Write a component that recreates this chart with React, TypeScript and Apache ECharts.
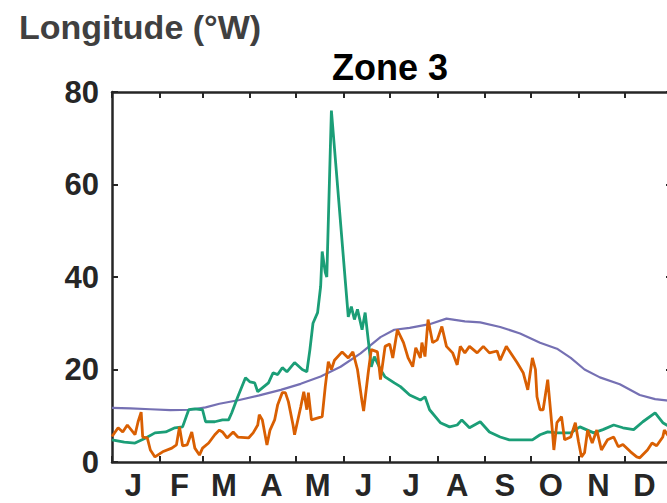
import React, { useEffect, useRef } from "react";
import * as echarts from "echarts";

const monthStarts = [0, 31, 59, 90, 120, 151, 181, 212, 243, 273, 304, 334, 365];
const monthLabelDays = [14, 44, 73, 104, 134, 164, 195, 225, 256, 286, 317, 347];
const monthLetters = ["J", "F", "M", "A", "M", "J", "J", "A", "S", "O", "N", "D"];
const yTicks = [0, 20, 40, 60, 80];

const purpleDays = [0, 12, 25, 38, 51, 61, 70, 83, 96, 110, 123, 136, 149, 162, 175, 184, 194, 207, 218, 230, 240, 253, 266, 279, 290, 299, 308, 318, 331, 344, 354, 364];
const purpleVals = [11.7, 11.6, 11.4, 11.2, 11.3, 11.8, 12.6, 13.4, 14.4, 15.6, 16.9, 18.5, 20.6, 23.5, 27, 28.6, 29, 29.8, 31, 30.4, 30.2, 29.2, 27.8, 25.8, 24.5, 22.5, 20, 18.3, 16.8, 14.5, 13.6, 13.2];

const greenDays = [0, 8, 15, 22, 28, 35, 41, 46, 50, 54, 59, 61, 67, 72, 76, 78, 82, 87, 90, 93, 95, 102, 105, 108, 111, 114, 119, 124, 127, 129, 131, 134, 136, 137, 139, 140, 143, 152, 154, 156, 158, 160, 163, 165, 167, 169, 171, 175, 178, 184, 188, 194, 201, 204, 207, 214, 220, 225, 228, 233, 240, 246, 253, 259, 268, 274, 279, 284, 290, 299, 305, 314, 320, 327, 333, 340, 346, 354, 359, 364];
const greenVals = [4.8, 4.3, 4.1, 5.2, 6.3, 6.5, 7.4, 7.6, 11.3, 11.5, 11.3, 8.7, 8.7, 9.1, 9.1, 10.6, 14.1, 18.2, 17.3, 17.1, 15.2, 17.1, 19.3, 18.9, 20.4, 19.5, 21.5, 20, 19.5, 24.3, 30, 32.3, 38, 45.5, 41, 40, 76, 39.4, 31.4, 33.6, 30.8, 33, 28.6, 32.3, 26.4, 20.6, 22.8, 20, 18.4, 17.1, 16.3, 14.5, 13.4, 14.1, 11.3, 8.5, 7.6, 8, 9.1, 7.4, 8.7, 6.5, 5.4, 4.8, 4.8, 4.8, 5.9, 6.5, 6.3, 6.3, 7.6, 6.3, 7, 8, 7.4, 7, 8.7, 10.6, 8.5, 7.5];

const orangeDays = [0, 4, 7, 10, 15, 17, 19, 20, 23, 25, 28, 33, 39, 42, 44, 46, 49, 52, 54, 57, 59, 63, 67, 70, 72, 75, 79, 82, 89, 92, 95, 96, 98, 101, 103, 106, 108, 111, 113, 115, 118, 119, 123, 125, 127, 128, 130, 137, 139, 141, 143, 145, 150, 154, 157, 160, 163, 164, 167, 169, 173, 175, 178, 181, 183, 186, 190, 193, 196, 198, 201, 202, 204, 206, 209, 212, 215, 218, 222, 225, 227, 230, 233, 238, 242, 246, 251, 253, 257, 259, 264, 268, 271, 274, 276, 277, 279, 281, 284, 287, 288, 290, 293, 295, 299, 302, 304, 306, 308, 310, 313, 316, 319, 323, 327, 330, 333, 338, 342, 344, 349, 352, 355, 359, 360, 364];
const orangeVals = [5.5, 7.4, 6.5, 8, 5.9, 8.7, 10.8, 5.4, 5.2, 2.6, 1.1, 2.2, 3, 3.7, 7.6, 3.5, 3.7, 6.5, 3, 1.5, 3, 4.1, 5.9, 6.9, 6.5, 5.2, 6.5, 5.4, 5.2, 6.3, 8, 10.2, 9.1, 3.7, 6.9, 9.1, 12.4, 15, 15, 13, 8, 5.9, 11.9, 15.2, 11.3, 15, 9.1, 9.8, 16.3, 21.7, 20, 22, 23.8, 22.5, 23.8, 20, 13, 11, 19.3, 24.3, 23.8, 17.8, 25, 25.5, 22.5, 28.6, 25.8, 22.5, 20.6, 24.7, 22.5, 25.8, 22.8, 30.8, 25.8, 26.4, 29.3, 25, 23.6, 21, 25, 23.6, 25, 23.6, 25, 23.6, 24, 22, 25, 24, 21.5, 19.3, 15.6, 22.5, 20, 14.1, 11.3, 11.3, 17.8, 6.9, 2.6, 8.5, 9.8, 4.8, 5.4, 8.5, 4.5, 1.1, 2, 6.9, 4.1, 6.9, 2.6, 4.8, 5.4, 3.3, 3.8, 2.2, 1.1, 0.9, 2.6, 4.1, 3.5, 5.4, 6.9, 5];

const days = Array.from({ length: 366 }, (_, i) => String(i));

const zip = (d: number[], v: number[]) => d.map((x, i) => [x, v[i]]);

const AXIS = "#262626";
const FONT = "'Liberation Sans', Arial, Helvetica, sans-serif";

export default function App() {
  const ref = useRef<HTMLDivElement>(null);
  useEffect(() => {
    if (!ref.current) return;
    const chart = echarts.init(ref.current, null, { renderer: "svg" });
    const tickX = {
      show: true,
      inside: true,
      length: 6,
      interval: (i: number) => monthStarts.includes(i),
      lineStyle: { color: AXIS, width: 2 },
    };
    const tickY = { show: true, inside: true, length: 6, lineStyle: { color: AXIS, width: 2 } };
    const line = { show: true, onZero: false, lineStyle: { color: AXIS, width: 2.5 } };
    chart.setOption({
      animation: false,
      backgroundColor: "#ffffff",
      grid: { left: 112, top: 92, width: 560, height: 370, containLabel: false },
      graphic: [
        {
          type: "text",
          left: 19,
          top: 10,
          style: { text: "Longitude (°W)", font: `bold 34px ${FONT}`, fill: "#404040" },
        },
        {
          type: "text",
          x: 390,
          y: 67,
          style: {
            text: "Zone 3",
            font: `bold 36px ${FONT}`,
            fill: "#000000",
            textAlign: "center",
            textVerticalAlign: "middle",
          },
        },
      ],
      xAxis: [
        {
          type: "category",
          data: days,
          boundaryGap: false,
          position: "bottom",
          axisLine: line,
          axisTick: tickX,
          splitLine: { show: false },
          axisLabel: {
            show: true,
            interval: (i: number) => monthLabelDays.includes(i),
            formatter: (_v: string, i: number) => {
              const k = monthLabelDays.indexOf(i);
              return k >= 0 ? monthLetters[k] : "";
            },
            margin: 8,
            color: AXIS,
            fontSize: 31,
            fontWeight: "bold",
            fontFamily: FONT,
          },
        },
        {
          type: "category",
          data: days,
          boundaryGap: false,
          position: "top",
          axisLine: line,
          axisTick: tickX,
          axisLabel: { show: false },
          splitLine: { show: false },
        },
      ],
      yAxis: [
        {
          type: "value",
          min: 0,
          max: 80,
          interval: 20,
          position: "left",
          axisLine: line,
          axisTick: tickY,
          splitLine: { show: false },
          axisLabel: {
            margin: 13,
            color: AXIS,
            fontSize: 31,
            fontWeight: "bold",
            fontFamily: FONT,
            formatter: (v: number) => (yTicks.includes(v) ? String(v) : ""),
          },
        },
        {
          type: "value",
          min: 0,
          max: 80,
          interval: 20,
          position: "right",
          axisLine: line,
          axisTick: tickY,
          splitLine: { show: false },
          axisLabel: { show: false },
        },
      ],
      series: [
        {
          type: "line",
          data: zip(purpleDays, purpleVals),
          showSymbol: false,
          lineStyle: { color: "#7570b3", width: 2.2 },
          itemStyle: { color: "#7570b3" },
          z: 2,
        },
        {
          type: "line",
          data: zip(greenDays, greenVals),
          showSymbol: false,
          lineStyle: { color: "#1b9e77", width: 2.8 },
          itemStyle: { color: "#1b9e77" },
          z: 3,
        },
        {
          type: "line",
          data: zip(orangeDays, orangeVals),
          showSymbol: false,
          lineStyle: { color: "#d95f02", width: 2.8 },
          itemStyle: { color: "#d95f02" },
          z: 4,
        },
      ],
    });
    return () => chart.dispose();
  }, []);
  return (
    <div
      ref={ref}
      style={{ position: "fixed", left: 0, top: 0, width: 700, height: 503, background: "#fff" }}
    />
  );
}
